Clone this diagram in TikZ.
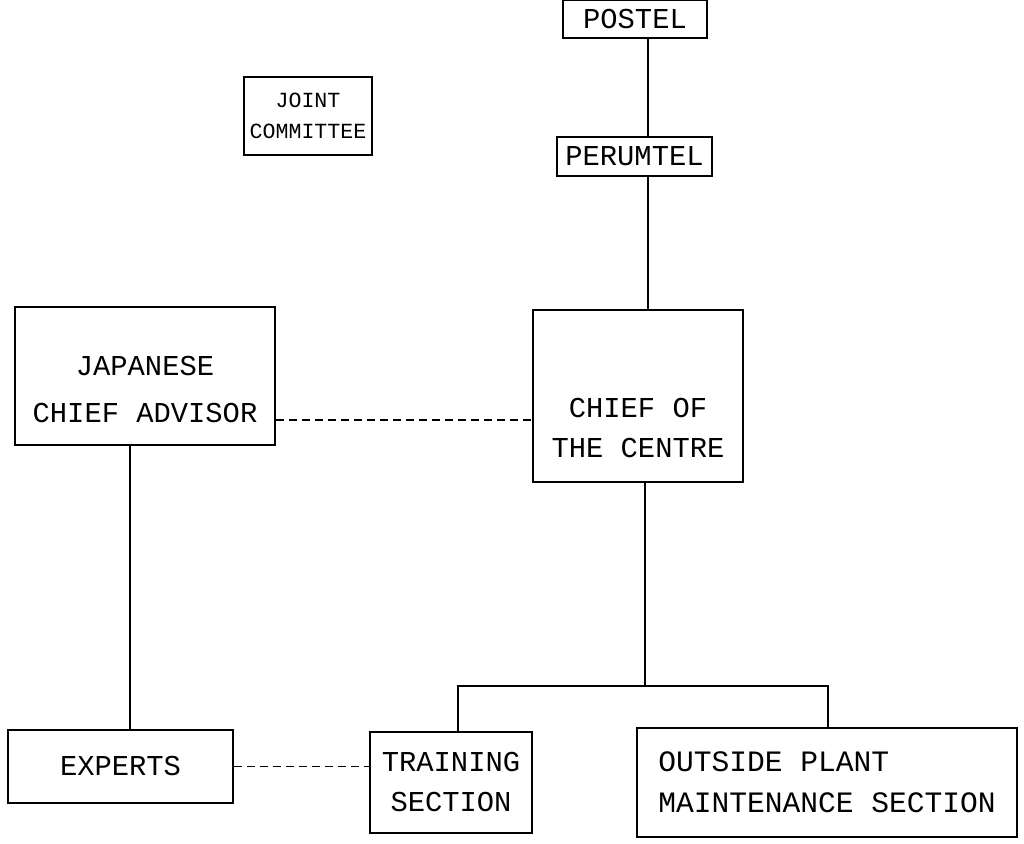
\documentclass[tikz,border=0pt]{standalone}
\usepackage{fontspec}
\setmonofont{Liberation Mono}
\usetikzlibrary{positioning,calc}

\begin{document}
\begin{tikzpicture}[
    x=0.5pt, y=-0.5pt,
    unit/.style={rectangle, draw, line width=0.8pt, inner sep=2pt, align=center,
      font=\ttfamily\fontsize{14.4}{20}\selectfont},
    link/.style={line width=0.8pt},
    adviselink/.style={line width=0.7pt, dashed, dash pattern=on 4pt off 2.5pt}
]
    \useasboundingbox (0,0) rectangle (1024,844);

    % boxes
    \node[unit, minimum width=72pt, minimum height=19pt] (postel) at (635,19) {POSTEL};
    \node[unit, minimum width=77.5pt, minimum height=19.5pt] (perumtel) at (634.5,156.5) {PERUMTEL};
    \node[unit, minimum width=64pt, minimum height=39pt,
      font=\ttfamily\fontsize{10.8}{15.5}\selectfont] (joint) at (308,116) {JOINT\\COMMITTEE};
    \node[unit, minimum width=130pt, minimum height=69pt, text height=47pt, text depth=0pt,
      font=\ttfamily\fontsize{14.4}{23.5}\selectfont] (advisor) at (145,376) {JAPANESE\\CHIEF ADVISOR};
    \node[unit, minimum width=105pt, minimum height=86pt, text height=62pt, text depth=0pt]
      (chief) at (638,396) {CHIEF OF\\THE CENTRE};
    \node[unit, minimum width=112.5pt, minimum height=36.5pt] (experts) at (120.5,766.5) {EXPERTS};
    \node[unit, minimum width=81pt, minimum height=50.5pt] (training) at (451,782.5) {TRAINING\\SECTION};
    \node[unit, minimum width=190pt, minimum height=54.5pt, align=left,
      font=\ttfamily\fontsize{14.8}{20.5}\selectfont] (outside) at (827,782.5)
      {OUTSIDE PLANT\\MAINTENANCE SECTION};

    % reference points for the lines
    \coordinate (spine) at (648,0);
    \coordinate (leftdrop) at (130,0);
    \coordinate (fork) at (645,686);
    \coordinate (trainx) at (458,0);
    \coordinate (outx) at (828,0);
    \coordinate (advisey) at (0,420);

    % connectors
    \draw[link] (postel.south -| spine) -- (perumtel.north -| spine);
    \draw[link] (perumtel.south -| spine) -- (chief.north -| spine);
    \draw[link] (chief.south -| fork) -- (fork);
    \draw[link] (training.north -| trainx) |- (fork) -| (outside.north -| outx);
    \draw[link] (advisor.south -| leftdrop) -- (experts.north -| leftdrop);
    \draw[adviselink] (advisor.east |- advisey) -- (chief.west |- advisey);
    \draw[adviselink] (experts.east) -- (training.west |- experts.east);
\end{tikzpicture}
\end{document}
